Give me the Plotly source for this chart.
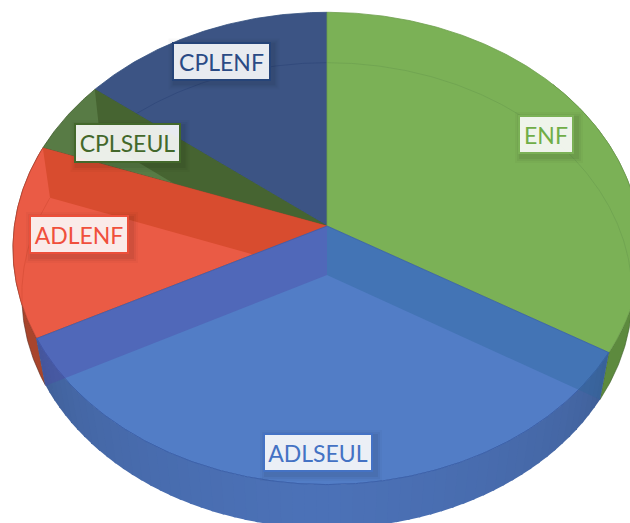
import numpy as np
import plotly.graph_objects as go

# --- data ---------------------------------------------------------------
categories = ["ENF", "ADLSEUL", "ADLENF", "CPLSEUL", "CPLENF"]
shares = [33.6, 33.8, 13.2, 5.0, 14.4]

# --- style --------------------------------------------------------------
FACE = {"ENF": "#7bb156", "ADLSEUL": "#527dc6", "ADLENF": "#ea5b45",
        "CPLSEUL": "#587b45", "CPLENF": "#3c5484"}
TEXT = {"ENF": "#70ad47", "ADLSEUL": "#4472c4", "ADLENF": "#f0503c",
        "CPLSEUL": "#43682b", "CPLENF": "#2a4a85"}
EDGE = {"ENF": "#7bb156", "ADLSEUL": "#4472c4", "ADLENF": "#ec4f3a",
        "CPLSEUL": "#43682b", "CPLENF": "#264478"}
BOX = {"ENF": (546, 134.5, 56, 39), "ADLSEUL": (318, 452.5, 110, 39),
       "ADLENF": (79, 234.5, 100, 39), "CPLSEUL": (127, 143, 107, 40),
       "CPLENF": (221, 61, 99, 39)}

# projection of the unit disc (top rim and bottom rim of the extruded pie)
TOP = dict(cx=327.0, cy=226.0, a=312.6, b=234.0, k=0.095)
BOT = dict(cx=327.0, cy=275.0, a=304.0, b=231.0, k=0.088)


def project(theta_deg, p, r=1.0):
    t = np.radians(theta_deg)
    u, v = r * np.sin(t), r * np.cos(t)
    d = 1 + p["k"] * v
    return p["cx"] + p["a"] * u / d, p["cy"] - p["b"] * v / d


def inside_top(x, y):
    yy = (TOP["cy"] - y) / TOP["b"]
    v = yy / (1 - TOP["k"] * yy)
    u = (x - TOP["cx"]) * (1 + TOP["k"] * v) / TOP["a"]
    return u * u + v * v <= 1


def arc(t0, t1, p):
    return project(np.linspace(t0, t1, max(int(abs(t1 - t0)) * 2, 2) + 1), p)


# slice boundaries from the values, clockwise from 12 o'clock
edges = np.concatenate([[0], np.cumsum(shares) / np.sum(shares) * 360])
span = {c: (edges[i], edges[i + 1]) for i, c in enumerate(categories)}

fig = go.Figure()


def poly(x, y, fill, line=None, lw=0.0):
    fig.add_trace(go.Scatter(
        x=list(x), y=list(y), mode="lines", fill="toself", fillcolor=fill,
        line=dict(color=line or "rgba(0,0,0,0)", width=lw),
        hoverinfo="skip", showlegend=False))


def polyline(x, y, color, lw=0.8):
    fig.add_trace(go.Scatter(x=list(x), y=list(y), mode="lines",
                             line=dict(color=color, width=lw),
                             hoverinfo="skip", showlegend=False))


def wall(t0, t1, fill, line=None):
    xa, ya = arc(t0, t1, TOP)
    xb, yb = arc(t0, t1, BOT)
    poly(np.r_[xa, xb[::-1]], np.r_[ya, yb[::-1]], fill, line, 0.6 if line else 0)


def sector(cat, line=None):
    t0, t1 = span[cat]
    xa, ya = arc(t0, t1, TOP)
    poly(np.r_[TOP["cx"], xa, TOP["cx"]], np.r_[TOP["cy"], ya, TOP["cy"]],
         FACE[cat], line, 0.8 if line else 0)


def band(theta, fill):
    xt, yt = project(theta, TOP)
    xb, yb = project(theta, BOT)
    poly([TOP["cx"], xt, xb, BOT["cx"], TOP["cx"]],
         [TOP["cy"], yt, yb, BOT["cy"], TOP["cy"]], fill)


def inner_arc(cat, color):
    t0, t1 = span[cat]
    x, y = arc(t0, t1, BOT)
    m = inside_top(x, y)
    polyline(np.where(m, x, np.nan), np.where(m, y, np.nan), color)


# outer walls of the back slices
wall(span["ENF"][0] + 50, span["ENF"][1], "#5d8a3e", "#3f5f2c")
wall(*span["ADLENF"], "#a8452c", "#5b2a20")

# top faces, back to front, with the inner radial walls showing through
sector("CPLENF", "#34507f")
inner_arc("CPLENF", "#30477a")
sector("CPLSEUL", "#3f5c2c")
band(span["CPLSEUL"][1], "#466431")
sector("ADLENF", "#b8432e")
band(span["ADLENF"][1], "#d84c2f")
inner_arc("ADLENF", "#d94f38")
sector("ENF", "#6f9f4e")
inner_arc("ENF", "#6fa251")

# front slice: top face and shaded outer wall
sector("ADLSEUL", "#3d62a8")
a0, a1 = span["ADLSEUL"]
steps = np.linspace(a0, a1, 61)
dark, light = np.array([62, 92, 146]), np.array([76, 114, 184])
for s0, s1 in zip(steps[:-1], steps[1:]):
    w = np.clip(1 - abs((s0 + s1) / 2 - (a0 + a1) / 2) / ((a1 - a0) / 2), 0, 1) ** 0.45
    c = (dark + (light - dark) * w).astype(int)
    wall(s0, s1 + 0.4, f"rgb({c[0]},{c[1]},{c[2]})")
polyline(*arc(a0, a1, TOP), "#3d62ab", 1.0)
band(a1, "rgba(77,73,166,0.40)")
band(a0, "rgba(45,103,156,0.40)")

# labels with a soft drop shadow
for cat in categories:
    xc, yc, w, h = BOX[cat]
    for off, alpha in ((6, 0.025), (4, 0.035), (2, 0.05)):
        fig.add_shape(type="rect", x0=xc - w / 2 - off + 3, x1=xc + w / 2 + off + 3,
                      y0=yc - h / 2 - off + 3, y1=yc + h / 2 + off + 3,
                      fillcolor=f"rgba(0,0,0,{alpha})", line_width=0, layer="above")
    fig.add_annotation(x=xc, y=yc, text=cat, showarrow=False,
                       width=w - 4, height=h - 4, align="center", valign="middle",
                       bgcolor="rgba(255,255,255,0.89)", bordercolor=EDGE[cat],
                       borderwidth=2, borderpad=0,
                       font=dict(family="Lato, Carlito, sans-serif", size=23, color=TEXT[cat]))

fig.update_layout(
    width=630, height=523, margin=dict(l=0, r=0, t=0, b=0),
    paper_bgcolor="white", plot_bgcolor="white", showlegend=False,
    xaxis=dict(range=[0, 630], visible=False, fixedrange=True),
    yaxis=dict(range=[523, 0], visible=False, fixedrange=True),
)
fig.write_html("out.html", config={"displayModeBar": False, "responsive": False},
               post_script="document.body.style.margin='0';document.body.style.overflow='hidden';")
